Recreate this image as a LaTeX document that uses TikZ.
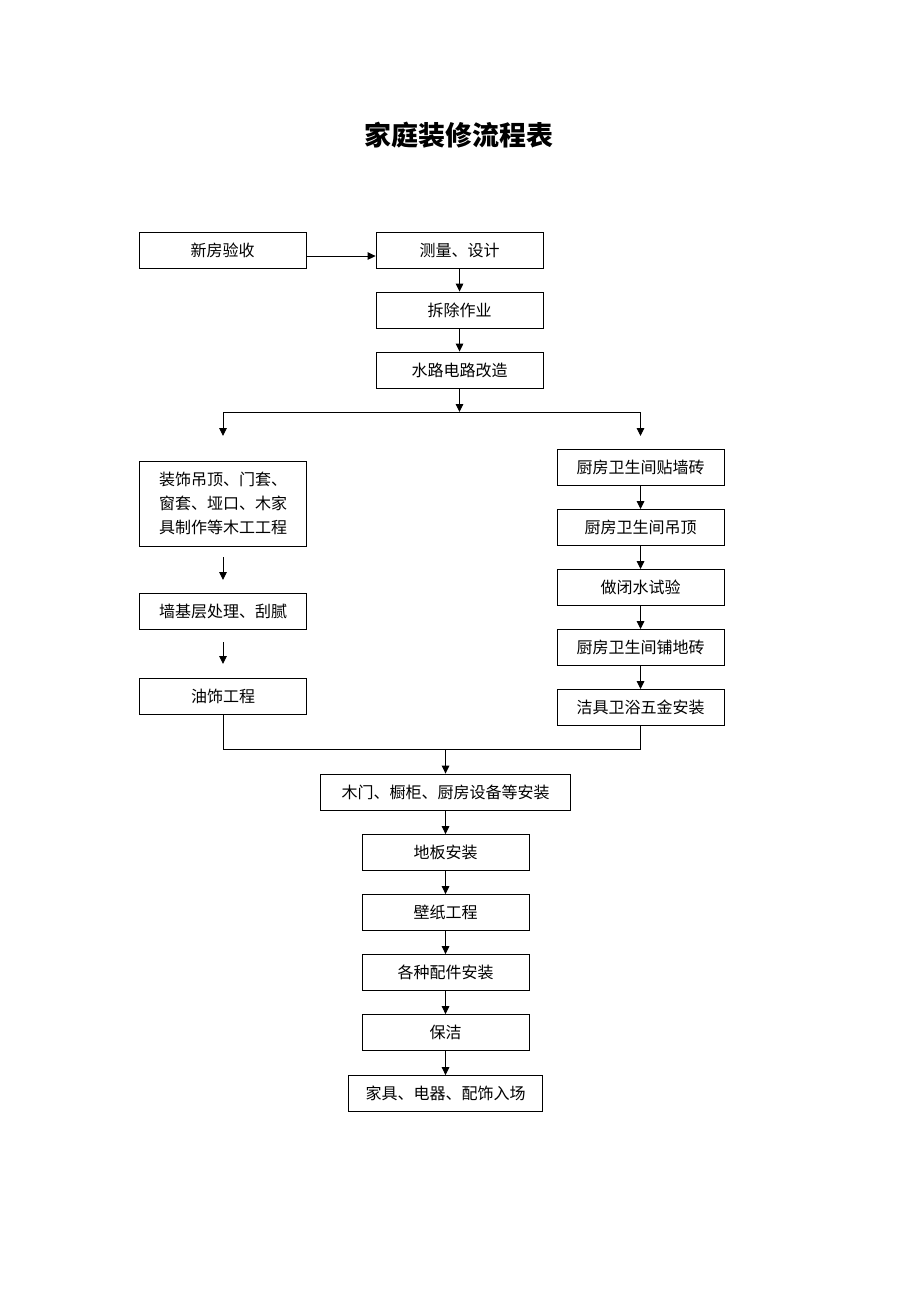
\documentclass[tikz,border=0pt]{standalone}
\usepackage{fontspec}
\usepackage{tikz}
\usetikzlibrary{arrows.meta,positioning,calc}
\newfontfamily\cjk{Noto Sans CJK SC}
\newcommand{\px}{0.65pt}

\begin{document}
\begin{tikzpicture}[x=0.65pt, y=-0.65pt,
    box/.style={draw, line width=0.6pt, font=\cjk\fontsize{10.4}{15.6}\selectfont,
        minimum width=167*\px, minimum height=36*\px, inner sep=0pt},
    arr/.style={line width=0.6pt, -{Triangle[length=5.2pt,width=5pt]}},
    ln/.style={line width=0.6pt}]
    \useasboundingbox (0,0) rectangle (920,1302);

    % Title
    \node[font=\cjk\bfseries\fontsize{17.5}{20}\selectfont] (title) at (459,135) {家庭装修流程表};

    % Main column, top
    \node[box] (xf) at (222.5,250) {新房验收};
    \node[box] (cl) at (459.5,250) {测量、设计};
    \node[box] (cc) at (459.5,310) {拆除作业};
    \node[box] (sd) at (459.5,370) {水路电路改造};
    \draw[arr] ([yshift=-6*\px]xf.east) -- ([yshift=-6*\px]cl.west);
    \draw[arr] (cl) -- (cc);
    \draw[arr] (cc) -- (sd);

    % Split into two branches
    \coordinate (split) at (459.5,412);
    \coordinate (lt) at (223,436);
    \coordinate (rt) at (640.5,436);
    \draw[arr] (sd) -- (split);
    \draw[arr] (split) -| (lt);
    \draw[arr] (split) -| (rt);

    % Left branch
    \node[box, minimum height=85*\px, text width=84pt, align=center] (mg) at (223,503.5)
        {装饰吊顶、门套、\\窗套、垭口、木家\\具制作等木工工程};
    \node[box] (qj) at (223,611.5) {墙基层处理、刮腻};
    \node[box] (ys) at (223,696) {油饰工程};
    \coordinate (a1) at (223,557);
    \coordinate (a2) at (223,580);
    \coordinate (b1) at (223,642);
    \coordinate (b2) at (223,664);
    \draw[arr] (a1) -- (a2);
    \draw[arr] (b1) -- (b2);

    % Right branch
    \node[box] (tq) at (640.5,467) {厨房卫生间贴墙砖};
    \node[box] (dd) at (640.5,527.5) {厨房卫生间吊顶};
    \node[box] (bs) at (640.5,587.5) {做闭水试验};
    \node[box] (pd) at (640.5,647.5) {厨房卫生间铺地砖};
    \node[box] (jj) at (640.5,707.5) {洁具卫浴五金安装};
    \draw[arr] (tq) -- (dd);
    \draw[arr] (dd) -- (bs);
    \draw[arr] (bs) -- (pd);
    \draw[arr] (pd) -- (jj);

    % Merge
    \coordinate (mrg) at (445.5,749.5);
    \node[box, minimum width=250*\px] (mm) at (445.5,792) {木门、橱柜、厨房设备等安装};
    \draw[ln] (ys) |- (mrg);
    \draw[ln] (jj) |- (mrg);
    \draw[arr] (mrg) -- (mm);

    % Main column, bottom
    \node[box] (db) at (445.5,852.5) {地板安装};
    \node[box] (bz) at (445.5,912.5) {壁纸工程};
    \node[box] (pj) at (445.5,972.5) {各种配件安装};
    \node[box] (bj) at (445.5,1032.5) {保洁};
    \node[box, minimum width=194*\px] (jd) at (445.5,1093.5) {家具、电器、配饰入场};
    \draw[arr] (mm) -- (db);
    \draw[arr] (db) -- (bz);
    \draw[arr] (bz) -- (pj);
    \draw[arr] (pj) -- (bj);
    \draw[arr] (bj) -- (jd);
\end{tikzpicture}
\end{document}
